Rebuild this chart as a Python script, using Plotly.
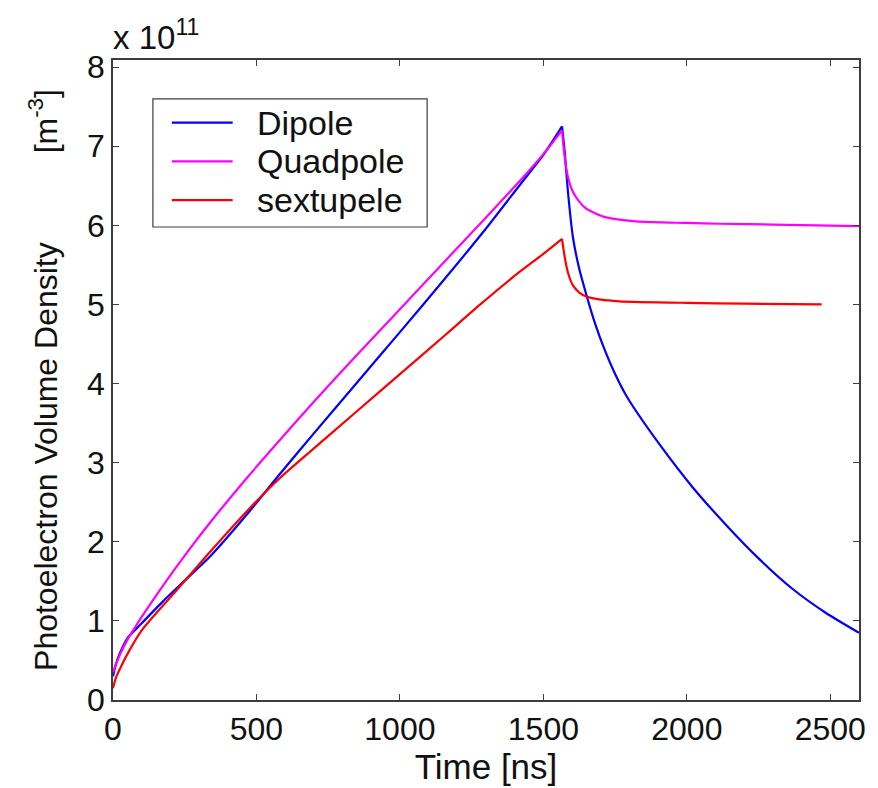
import plotly.graph_objects as go

# Photoelectron volume density (units of 1e11 m^-3) versus time in ns
SCALE_EXP = 11

t_dipole = [0, 10, 25, 50, 100, 175, 250, 340, 470, 580, 700, 850, 1000, 1160,
            1300, 1420, 1500, 1565, 1575, 1585, 1603, 1625, 1650, 1680, 1710,
            1750, 1790, 1905, 2020, 2140, 2250, 2370, 2485, 2600]
dipole = [0.30, 0.45, 0.60, 0.78, 0.97, 1.25, 1.51, 1.82, 2.36, 2.85, 3.37, 4.01,
          4.65, 5.34, 5.96, 6.52, 6.89, 7.25, 6.90, 6.45, 5.85, 5.45, 5.12, 4.76,
          4.46, 4.12, 3.84, 3.23, 2.69, 2.20, 1.79, 1.40, 1.10, 0.85]

t_quadpole = [0, 10, 25, 50, 77, 100, 175, 257, 340, 465, 580, 700, 850, 1000,
              1160, 1300, 1420, 1500, 1565, 1570, 1580, 1590, 1603, 1625, 1650,
              1719, 1823, 2000, 2113, 2300, 2600]
quadpole = [0.35, 0.45, 0.58, 0.76, 0.92, 1.05, 1.45, 1.86, 2.25, 2.80, 3.28, 3.77,
            4.36, 4.94, 5.56, 6.10, 6.57, 6.90, 7.20, 7.00, 6.71, 6.55, 6.42, 6.30,
            6.21, 6.10, 6.05, 6.03, 6.02, 6.01, 5.99]

t_sextupele = [0, 10, 25, 50, 100, 220, 340, 470, 580, 700, 850, 1000, 1160,
               1280, 1420, 1500, 1565, 1570, 1580, 1590, 1603, 1625, 1650, 1700,
               1765, 2000, 2200, 2470]
sextupele = [0.15, 0.28, 0.40, 0.58, 0.88, 1.38, 1.88, 2.40, 2.80, 3.18, 3.65, 4.12,
             4.62, 5.00, 5.42, 5.64, 5.83, 5.70, 5.49, 5.35, 5.24, 5.15, 5.10, 5.06,
             5.04, 5.02, 5.01, 5.00]

series_names = ["Dipole", "Quadpole", "sextupele"]
series_colors = ["#0000ff", "#ff00ff", "#ff0000"]

x_ticks = [0, 500, 1000, 1500, 2000, 2500]
y_ticks = [0, 1, 2, 3, 4, 5, 6, 7, 8]

FONT = "Liberation Sans, Arial, Helvetica, sans-serif"
AXIS_COLOR = "#3c3c3c"
TEXT_COLOR = "#111111"
LINE_W = 2.2

fig = go.Figure()
for name, t, v, color in zip(series_names,
                             [t_dipole, t_quadpole, t_sextupele],
                             [dipole, quadpole, sextupele],
                             series_colors):
    # charge-up and decay are drawn as two smooth pieces sharing the peak
    k = v.index(max(v))
    for ts, vs in ((t[:k + 1], v[:k + 1]), (t[k:], v[k:])):
        fig.add_trace(go.Scatter(
            x=ts, y=vs, mode="lines", name=name, legendgroup=name, showlegend=False,
            line=dict(color=color, width=LINE_W, shape="spline", smoothing=0.7),
        ))

axis_common = dict(
    showline=True, linecolor=AXIS_COLOR, linewidth=1.5, mirror="ticks",
    ticks="inside", ticklen=6, tickwidth=1.2, tickcolor=AXIS_COLOR,
    showgrid=False, zeroline=False,
    tickfont=dict(family=FONT, size=32, color=TEXT_COLOR),
)

fig.update_xaxes(
    range=[0, 2600], tickvals=x_ticks, ticktext=[str(v) for v in x_ticks],
    title=dict(text="Time [ns]", font=dict(family=FONT, size=35, color=TEXT_COLOR), standoff=4),
    **axis_common,
)
fig.update_yaxes(
    range=[0, 8.09], tickvals=y_ticks, ticktext=[str(v) for v in y_ticks],
    title=dict(text="Photoelectron Volume Density" + "&nbsp;" * 10 + "[m<sup>-3</sup>]",
               font=dict(family=FONT, size=32, color=TEXT_COLOR), standoff=20),
    **axis_common,
)

fig.add_annotation(
    xref="paper", yref="paper", x=0, y=1, xanchor="left", yanchor="bottom",
    yshift=2, xshift=-2, showarrow=False,
    text=f"x 10<sup>{SCALE_EXP}</sup>", font=dict(family=FONT, size=33, color=TEXT_COLOR),
)

# boxed key in the upper-left corner of the axes
LEG_X0, LEG_X1, LEG_Y0, LEG_Y1 = 0.0535, 0.4211, 0.7391, 0.9394
KEY_X0, KEY_X1, KEY_TEXT_X = 0.0789, 0.1604, 0.1898
KEY_ROWS = [0.9022, 0.8416, 0.7811]
fig.add_shape(type="rect", xref="paper", yref="paper",
              x0=LEG_X0, x1=LEG_X1, y0=LEG_Y0, y1=LEG_Y1,
              line=dict(color=AXIS_COLOR, width=1.2), fillcolor="white", layer="above")
for name, color, ry in zip(series_names, series_colors, KEY_ROWS):
    fig.add_shape(type="line", xref="paper", yref="paper",
                  x0=KEY_X0, x1=KEY_X1, y0=ry, y1=ry,
                  line=dict(color=color, width=LINE_W), layer="above")
    fig.add_annotation(xref="paper", yref="paper", x=KEY_TEXT_X, y=ry,
                       xanchor="left", yanchor="middle", showarrow=False,
                       text=name, font=dict(family=FONT, size=34, color=TEXT_COLOR))

fig.update_layout(
    width=878, height=788,
    margin=dict(l=113, r=17, t=60, b=84),
    paper_bgcolor="white", plot_bgcolor="white",
    showlegend=False,
)

fig.write_html("out.html")
